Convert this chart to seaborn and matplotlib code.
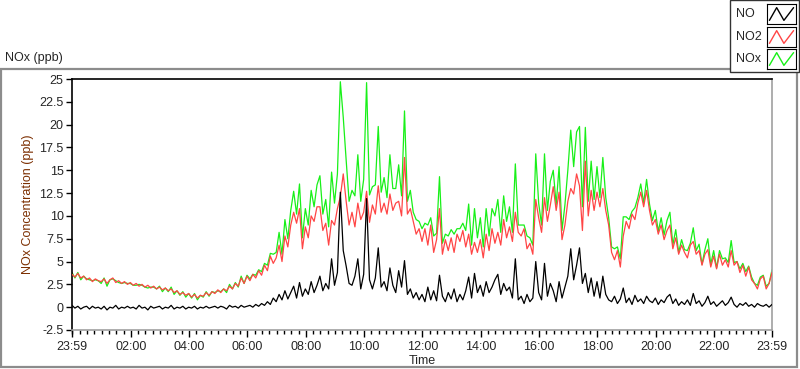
import numpy as np
import pandas as pd
import matplotlib
matplotlib.use("Agg")
import matplotlib.pyplot as plt
import seaborn as sns
from matplotlib.patches import Rectangle

# ---------------- data (6-minute samples from 23:59 to 23:59) ----------------
step_min = 6
no = [
    0.2, -0.1, 0.1, -0.2, 0.0, 0.1, -0.2, 0.1, -0.1, 0.0,
    -0.2, 0.1, -0.3, 0.0, -0.1, 0.2, -0.2, 0.0, -0.1, 0.1,
    -0.1, 0.0, -0.2, 0.2, -0.1, 0.0, -0.3, 0.1, -0.1, 0.0,
    0.1, -0.2, 0.0, -0.1, 0.2, -0.2, 0.0, -0.1, 0.1, -0.2,
    0.0, -0.1, 0.1, -0.2, 0.0, -0.1, 0.1, -0.1, 0.0, 0.1,
    -0.1, 0.1, 0.0, -0.2, 0.2, 0.0, 0.1, -0.1, 0.2, 0.0,
    0.1, 0.2, 0.0, 0.3, 0.1, 0.4, 0.2, 0.6, 0.3, 1.0,
    0.6, 1.4, 0.8, 1.8, 0.9, 1.6, 2.3, 1.0, 2.7, 1.2,
    2.0, 1.4, 2.8, 1.6, 2.4, 3.4, 1.8, 2.6, 2.0, 5.3,
    2.4, 3.8, 12.6, 6.2, 4.5, 2.6, 2.4, 3.4, 5.3, 2.0,
    3.6, 11.9, 3.0, 2.0, 3.2, 6.5, 2.2, 2.8, 1.8, 4.3,
    2.4, 1.6, 4.0, 2.2, 5.1, 1.4, 2.0, 1.0, 1.6, 0.8,
    1.4, 0.6, 2.2, 0.8, 1.8, 0.7, 3.5, 1.2, 0.6, 1.6,
    0.9, 2.0, 0.6, 1.4, 0.8, 1.8, 3.3, 1.0, 3.7, 1.6,
    2.4, 1.2, 2.8, 1.6, 2.2, 3.0, 3.6, 1.4, 2.6, 1.8,
    2.2, 1.0, 5.3, 0.8, 1.2, 0.4, 1.4, 0.6, 1.0, 5.0,
    1.6, 0.8, 4.8, 1.2, 2.6, 1.8, 0.6, 2.8, 1.0, 2.2,
    3.4, 6.4, 3.0, 4.6, 6.5, 2.6, 3.7, 1.6, 3.2, 1.2,
    2.8, 1.0, 3.4, 1.4, 0.8, 0.6, 1.2, 0.4, 0.9, 2.1,
    0.5, 1.0, 0.3, 1.3, 0.6, 0.9, 0.4, 1.2, 0.7, 0.5,
    1.0, 0.3, 0.8, 0.5, 1.1, 1.4, 0.4, 0.9, 0.2, 0.6,
    0.3, 0.8, 0.2, 1.5, 0.4, 0.7, 0.1, 0.5, 1.2, 0.3,
    0.6, 0.1, 0.4, 0.7, 0.2, 0.5, 1.1, 0.3, 0.0, 0.4,
    0.2, 0.5, 0.1, 0.3, 0.0, 0.4, 0.2, 0.1, 0.3, 0.0,
    0.3,
]
no2 = [
    3.6, 3.3, 3.7, 3.2, 3.4, 3.0, 3.2, 2.8, 3.1, 2.9,
    2.8, 3.1, 2.6, 3.0, 3.2, 2.7, 2.9, 2.6, 2.8, 2.5,
    2.7, 2.4, 2.6, 2.3, 2.5, 2.2, 2.4, 2.1, 2.3, 2.0,
    2.2, 1.9, 2.1, 1.8, 2.0, 1.6, 1.8, 1.4, 1.6, 1.3,
    1.5, 1.1, 1.4, 1.0, 1.3, 1.2, 1.6, 1.3, 1.7, 1.5,
    1.9, 1.6, 2.0, 1.8, 2.3, 2.0, 2.6, 2.3, 3.2, 2.6,
    3.4, 2.9, 3.6, 3.2, 4.0, 3.5, 4.6, 4.0, 5.6, 4.8,
    5.4, 6.8, 5.0, 7.8, 6.6, 9.0, 10.4, 9.2, 10.8, 6.4,
    8.8, 7.6, 10.0, 9.4, 11.0, 11.0, 8.4, 9.2, 6.8, 9.5,
    9.0, 10.8, 12.1, 14.6, 11.6, 9.0, 10.4, 8.8, 11.4, 9.6,
    10.4, 12.7, 9.3, 11.2, 10.2, 13.3, 10.4, 11.4, 10.2, 12.4,
    10.6, 11.4, 11.6, 10.0, 16.4, 10.2, 10.8, 9.4, 8.0, 8.6,
    7.2, 8.6, 6.8, 9.0, 6.0, 7.4, 10.8, 5.8, 7.4, 6.2,
    7.6, 6.0, 8.0, 7.2, 8.4, 6.6, 8.0, 5.8, 7.1, 6.0,
    7.4, 5.4, 8.0, 6.2, 8.6, 7.0, 8.2, 6.8, 9.6, 7.6,
    8.8, 7.2, 10.4, 8.2, 7.8, 8.6, 6.4, 7.0, 5.8, 11.8,
    9.8, 8.2, 12.0, 9.4, 11.2, 13.2, 10.6, 12.6, 7.4, 9.0,
    11.6, 13.0, 12.4, 14.6, 13.3, 8.4, 16.0, 10.0, 12.8, 10.6,
    12.6, 11.0, 13.0, 10.6, 9.0, 6.0, 5.2, 6.2, 4.4, 7.8,
    9.4, 8.6, 10.2, 9.6, 11.4, 12.6, 11.0, 12.8, 10.6, 9.0,
    9.6, 8.0, 9.0, 7.4, 8.4, 9.0, 6.4, 7.6, 5.8, 6.8,
    6.0, 5.4, 6.8, 7.2, 5.8, 6.2, 4.6, 5.8, 6.3, 4.4,
    5.6, 4.2, 5.8, 4.6, 5.2, 4.4, 6.2, 4.6, 5.0, 3.8,
    4.6, 3.4, 4.4, 3.0, 2.6, 2.0, 3.1, 3.4, 2.0, 2.6,
    3.8,
]
nox = [
    3.8, 3.2, 3.8, 3.0, 3.4, 3.1, 3.0, 2.9, 3.0, 2.9,
    2.6, 3.2, 2.3, 3.0, 3.1, 2.9, 2.7, 2.6, 2.7, 2.6,
    2.6, 2.4, 2.4, 2.5, 2.4, 2.2, 2.1, 2.2, 2.2, 2.0,
    2.3, 1.7, 2.1, 1.7, 2.2, 1.4, 1.8, 1.3, 1.7, 1.1,
    1.5, 1.0, 1.5, 0.8, 1.3, 1.1, 1.7, 1.2, 1.7, 1.6,
    1.8, 1.7, 2.0, 1.6, 2.5, 2.0, 2.7, 2.2, 3.4, 2.6,
    3.5, 3.1, 3.6, 3.5, 4.1, 3.9, 4.8, 4.6, 5.9, 5.8,
    6.0, 8.2, 5.8, 9.6, 7.5, 10.6, 12.7, 10.2, 13.5, 7.6,
    10.8, 9.0, 12.8, 11.0, 13.4, 14.4, 10.2, 11.8, 8.8, 14.8,
    11.4, 14.6, 24.7, 20.8, 16.1, 11.6, 12.8, 12.2, 16.7, 11.6,
    14.0, 24.6, 12.3, 13.2, 13.4, 19.8, 12.6, 14.2, 12.0, 16.7,
    13.0, 13.0, 15.6, 12.2, 21.5, 11.6, 12.8, 10.4, 9.6, 9.4,
    8.6, 9.2, 9.0, 9.8, 7.8, 8.1, 14.3, 7.0, 8.0, 7.8,
    8.5, 8.0, 8.6, 8.6, 9.2, 8.4, 11.3, 6.8, 10.8, 7.6,
    9.8, 6.6, 10.8, 7.8, 10.8, 10.0, 11.8, 8.2, 12.2, 9.4,
    11.0, 8.2, 15.7, 9.0, 9.0, 9.0, 7.8, 7.6, 6.8, 16.8,
    11.4, 9.0, 16.8, 10.6, 13.8, 15.0, 11.2, 15.4, 8.4, 11.2,
    15.0, 19.4, 15.4, 19.2, 19.8, 11.0, 19.7, 11.6, 16.0, 11.8,
    15.4, 12.0, 16.4, 12.0, 9.8, 6.6, 6.4, 6.6, 5.3, 9.9,
    9.9, 9.6, 10.5, 10.9, 12.0, 13.5, 11.4, 14.0, 11.3, 9.5,
    10.6, 8.3, 9.8, 7.9, 9.5, 10.4, 6.8, 8.5, 6.0, 7.4,
    6.3, 6.2, 7.0, 8.7, 6.2, 6.9, 4.7, 6.3, 7.5, 4.7,
    6.2, 4.3, 6.2, 5.3, 5.4, 4.9, 7.3, 4.9, 5.0, 4.2,
    4.8, 3.9, 4.5, 3.3, 2.6, 2.4, 3.3, 3.5, 2.3, 2.6,
    4.1,
]
series_names = ["NO", "NO2", "NOx"]
series_colors = ["#000000", "#ff4545", "#18f018"]

x_tick_minutes = [0, 121, 241, 361, 481, 601, 721, 841, 961, 1081, 1201, 1321, 1440]
x_tick_labels = ["23:59", "02:00", "04:00", "06:00", "08:00", "10:00", "12:00",
                 "14:00", "16:00", "18:00", "20:00", "22:00", "23:59"]
y_ticks = [-2.5, 0, 2.5, 5, 7.5, 10, 12.5, 15, 17.5, 20, 22.5, 25]
y_tick_labels = ["-2.5", "0", "2.5", "5", "7.5", "10", "12.5", "15", "17.5", "20", "22.5", "25"]

minutes = np.arange(len(no)) * step_min
df = pd.DataFrame({"minute": minutes, "NO": no, "NO2": no2, "NOx": nox})

# ---------------- style ----------------
sns.set_style("white")
plt.rcParams["font.family"] = ["Liberation Sans", "DejaVu Sans"]
plt.rcParams["font.size"] = 9

fig = plt.figure(figsize=(8.0, 3.69), dpi=100)
W, H = 800, 369

def fx(px):
    return px / W

def fy(py):
    return 1 - py / H

ax = fig.add_axes([fx(72), fy(330), fx(772) - fx(72), fy(79) - fy(330)])
ax.set_facecolor("white")

# draw order: NOx (green), NO2 (red), NO (black) on top
for name, col, z in [("NOx", series_colors[2], 2), ("NO2", series_colors[1], 3), ("NO", series_colors[0], 4)]:
    sns.lineplot(data=df, x="minute", y=name, color=col, linewidth=0.9, ax=ax, zorder=z)

ax.set_xlim(0, 1440)
ax.set_ylim(-2.5, 25)
ax.set_xticks(x_tick_minutes)
ax.set_xticklabels(x_tick_labels)
ax.set_xticks(np.arange(1, 1441, 15), minor=True)
ax.set_yticks(y_ticks)
ax.set_yticklabels(y_tick_labels)
ax.tick_params(axis="x", which="major", direction="out", length=5, width=1, color="black",
               labelsize=9, pad=3, bottom=True)
ax.tick_params(axis="x", which="minor", direction="out", length=3, width=1, color="black", bottom=True)
ax.tick_params(axis="y", which="major", direction="out", length=4, width=1, color="black",
               labelsize=9, pad=2, left=True)
ax.grid(False)

for side in ["top", "left"]:
    ax.spines[side].set_visible(True)
    ax.spines[side].set_color("black")
    ax.spines[side].set_linewidth(1.2)
for side in ["right", "bottom"]:
    ax.spines[side].set_visible(True)
    ax.spines[side].set_color("#a0a0a0")
    ax.spines[side].set_linewidth(1.2)

ax.set_xlabel("Time", fontsize=9, labelpad=1)
ax.set_ylabel("NOx Concentration (ppb)", fontsize=9, color="#7b2e00", labelpad=4)

# outer frame
fig.patches.append(Rectangle((fx(1), fy(367)), fx(797) - fx(1), fy(69) - fy(367),
                             transform=fig.transFigure, fill=False, edgecolor="#8c8c8c",
                             linewidth=1.6, zorder=0))

# chart title
fig.text(fx(5), fy(58), "NOx (ppb)", fontsize=9, va="center", ha="left")

# legend box (top right)
fig.patches.append(Rectangle((fx(730), fy(72)), fx(799) - fx(730), fy(0) - fy(72),
                             transform=fig.transFigure, facecolor="white", edgecolor="#333333",
                             linewidth=1.0, zorder=5))
row_centers = [14, 37, 59]
for name, col, yc in zip(series_names, series_colors, row_centers):
    fig.text(fx(736), fy(yc), name, fontsize=9, va="center", ha="left", zorder=6)
    sub = fig.add_axes([fx(767), fy(yc + 10), fx(796) - fx(767), fy(yc - 10) - fy(yc + 10)], zorder=6)
    sub.plot([0, 0.3, 0.6, 1.0], [0.15, 0.85, 0.15, 0.85], color=col, linewidth=1.0)
    sub.set_xlim(-0.1, 1.1)
    sub.set_ylim(-0.05, 1.05)
    sub.set_xticks([])
    sub.set_yticks([])
    sub.set_facecolor("white")
    for s in sub.spines.values():
        s.set_visible(True)
        s.set_color("black")
        s.set_linewidth(0.8)

fig.savefig("out.png", dpi=100)
